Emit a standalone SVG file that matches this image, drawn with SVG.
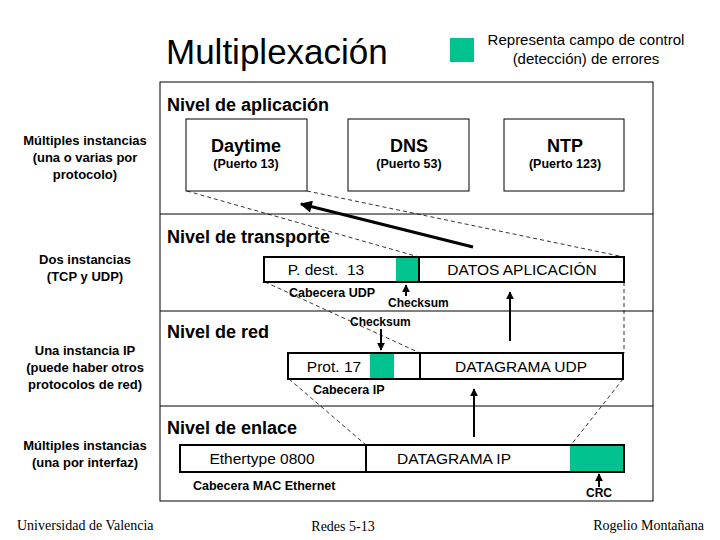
<svg xmlns="http://www.w3.org/2000/svg" width="720" height="540" viewBox="0 0 720 540">
<defs>
<style>
text{font-family:"Liberation Sans",Arial,sans-serif;fill:#000}
.side{font-size:13px;font-weight:bold;text-anchor:middle}
.lvl{font-size:18px;font-weight:bold}
.app{font-size:18px;font-weight:bold;text-anchor:middle}
.port{font-size:12.5px;font-weight:bold;text-anchor:middle}
.fld{font-size:15.5px;text-anchor:middle}
.lab{font-size:12.5px;font-weight:bold}
.ck{font-size:12px;font-weight:bold}
.foot{font-family:"Liberation Serif","Times New Roman",serif;font-size:14px}
.box{fill:#fff;stroke:#000;stroke-width:1}
.pkt{fill:#fff;stroke:#000;stroke-width:2}
.grn{fill:#00c390}
.sep{stroke:#000;stroke-width:1}
.dash{fill:none;stroke:#000;stroke-width:0.8;stroke-dasharray:4 3}
.arr{stroke:#000;stroke-width:2;marker-end:url(#ah)}
</style>
<marker id="ah" viewBox="0 0 10 10" refX="9" refY="5" markerWidth="4" markerHeight="4" orient="auto" markerUnits="strokeWidth">
<path d="M0,0 L10,5 L0,10 z" fill="#000"/>
</marker>
<marker id="ahb" viewBox="0 0 10 10" refX="9" refY="5" markerWidth="4.5" markerHeight="4" orient="auto" markerUnits="strokeWidth">
<path d="M0,0 L10,5 L0,10 z" fill="#000"/>
</marker>
</defs>

<g id="title">
<text x="166" y="64" font-size="35">Multiplexación</text>
</g>
<g id="legend">
<rect class="grn" x="450" y="38" width="24" height="24"/>
<text x="586" y="45" font-size="15" text-anchor="middle">Representa campo de control</text>
<text x="586" y="64" font-size="15" text-anchor="middle">(detección) de errores</text>
</g>

<g id="frame">
<rect x="160" y="82" width="493" height="419" fill="none" stroke="#000" stroke-width="1"/>
<line class="sep" x1="160" y1="214" x2="653" y2="214"/>
<line class="sep" x1="160" y1="311" x2="653" y2="311"/>
<line class="sep" x1="160" y1="406" x2="653" y2="406"/>
<text class="lvl" x="167" y="111">Nivel de aplicación</text>
<text class="lvl" x="167" y="243">Nivel de transporte</text>
<text class="lvl" x="167" y="338">Nivel de red</text>
<text class="lvl" x="167" y="434">Nivel de enlace</text>
</g>

<g id="side-labels">
<text class="side" x="85" y="145">Múltiples instancias</text>
<text class="side" x="85" y="162">(una o varias por</text>
<text class="side" x="85" y="179">protocolo)</text>
<text class="side" x="85" y="264">Dos instancias</text>
<text class="side" x="85" y="281">(TCP y UDP)</text>
<text class="side" x="85" y="355">Una instancia IP</text>
<text class="side" x="85" y="372">(puede haber otros</text>
<text class="side" x="85" y="389">protocolos de red)</text>
<text class="side" x="85" y="450">Múltiples instancias</text>
<text class="side" x="85" y="467">(una por interfaz)</text>
</g>

<g id="connectors">
<polyline class="dash" points="187,191 419,257"/>
<polyline class="dash" points="307,191 624,257"/>
<polyline class="dash" points="265,282 420,353"/>
<polyline class="dash" points="624,282 624,353"/>
<polyline class="dash" points="289,379 366,445"/>
<polyline class="dash" points="623,379 571,445"/>
<line x1="473" y1="247" x2="301" y2="204" stroke="#000" stroke-width="3" marker-end="url(#ahb)"/>
<line class="arr" x1="510" y1="341" x2="510" y2="292"/>
<line class="arr" x1="474" y1="437" x2="474" y2="389"/>
<line class="arr" x1="406" y1="296" x2="406" y2="285"/>
<line class="arr" x1="381" y1="329" x2="381" y2="350"/>
<line class="arr" x1="599" y1="487" x2="599" y2="474"/>
</g>

<g id="daytime">
<rect class="box" x="186" y="119" width="121" height="72"/>
<text class="app" x="246" y="152">Daytime</text>
<text class="port" x="246" y="168">(Puerto 13)</text>
</g>
<g id="dns">
<rect class="box" x="348" y="119" width="121" height="72"/>
<text class="app" x="409" y="152">DNS</text>
<text class="port" x="409" y="168">(Puerto 53)</text>
</g>
<g id="ntp">
<rect class="box" x="504" y="119" width="120" height="72"/>
<text class="app" x="565" y="152">NTP</text>
<text class="port" x="565" y="168">(Puerto 123)</text>
</g>

<g id="udp-segment">
<rect class="pkt" x="264" y="257" width="360" height="25"/>
<rect class="grn" x="396" y="258" width="23" height="23"/>
<line x1="419" y1="257" x2="419" y2="282" stroke="#000" stroke-width="2"/>
<text class="fld" x="326" y="275" xml:space="preserve">P. dest.  13</text>
<text class="fld" x="522" y="275">DATOS APLICACIÓN</text>
<text class="lab" x="289" y="297">Cabecera UDP</text>
<text class="ck" x="388" y="307">Checksum</text>
</g>

<g id="ip-datagram">
<rect class="pkt" x="288" y="353" width="335" height="26"/>
<rect class="grn" x="370" y="354" width="24" height="24"/>
<line x1="420" y1="353" x2="420" y2="379" stroke="#000" stroke-width="2"/>
<text class="fld" x="334" y="372">Prot. 17</text>
<text class="fld" x="521" y="372">DATAGRAMA UDP</text>
<text class="ck" x="350" y="326">Checksum</text>
<text class="lab" x="313" y="394">Cabecera IP</text>
</g>

<g id="ethernet-frame">
<rect class="pkt" x="180" y="445" width="444" height="27"/>
<rect class="grn" x="570" y="446" width="53" height="25"/>
<line x1="366" y1="445" x2="366" y2="472" stroke="#000" stroke-width="2"/>
<text class="fld" x="262" y="464">Ethertype 0800</text>
<text class="fld" x="454" y="464">DATAGRAMA IP</text>
<text class="lab" x="193" y="490">Cabecera MAC Ethernet</text>
<text class="ck" x="599" y="497" text-anchor="middle">CRC</text>
</g>

<g id="footer">
<text class="foot" x="17" y="530">Universidad de Valencia</text>
<text class="foot" x="343" y="531" text-anchor="middle">Redes 5-13</text>
<text class="foot" x="704" y="530" text-anchor="end">Rogelio Montañana</text>
</g>
</svg>
